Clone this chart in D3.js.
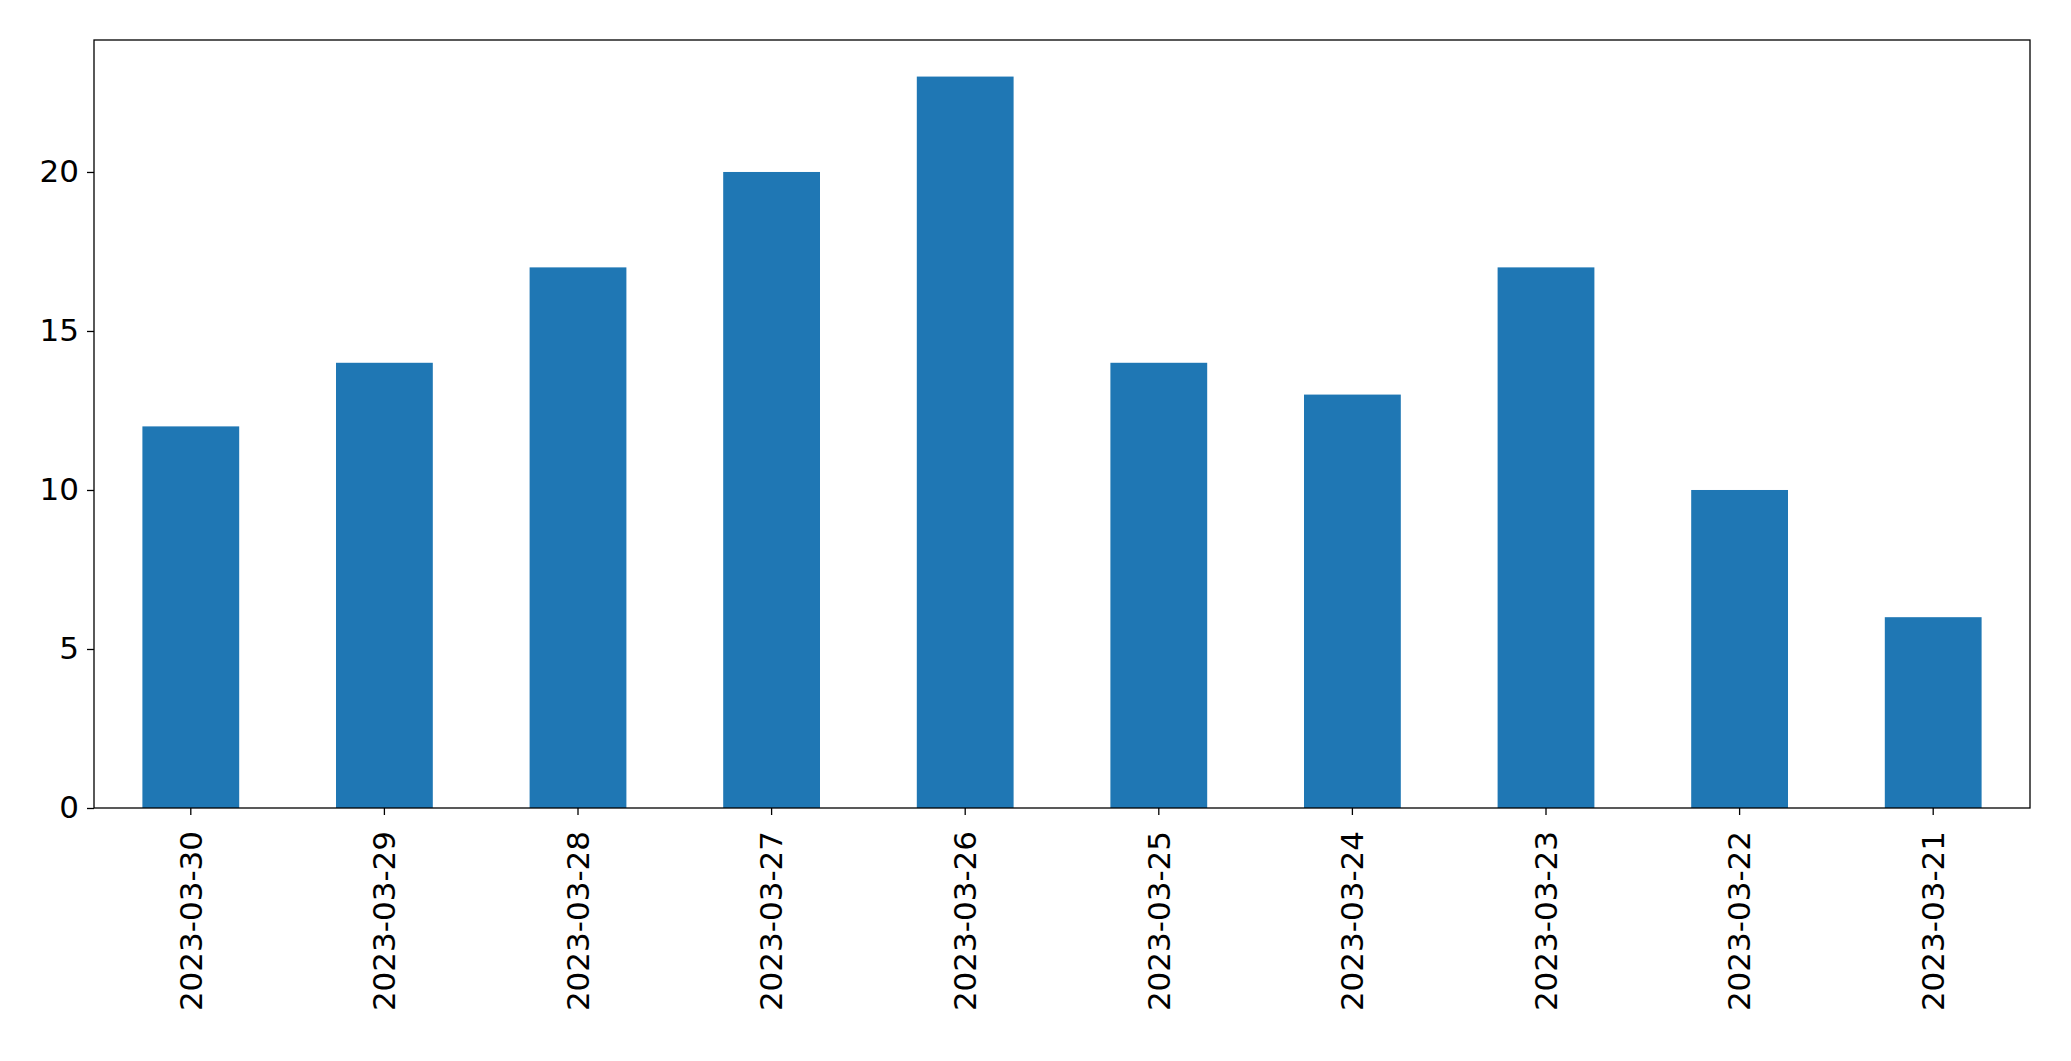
<!DOCTYPE html>
<html><head><meta charset="utf-8">
<script src="https://cdn.jsdelivr.net/npm/d3@7"></script>
<style>body{margin:0;background:#fff}svg{display:block}</style>
</head><body><svg id="c" width="2071" height="1061"></svg>
<script>
const categories = ["2023-03-30","2023-03-29","2023-03-28","2023-03-27","2023-03-26","2023-03-25","2023-03-24","2023-03-23","2023-03-22","2023-03-21"];
const values = [12,14,17,20,23,14,13,17,10,6];
const yTicks = [0,5,10,15,20];

const m = {l:94, r:2071-2030, t:40, b:1061-808};
const W = 2071, H = 1061;
const svg = d3.select("#c");
const x = d3.scaleBand().domain(categories).range([m.l, W-m.r]).paddingInner(0.5).paddingOuter(0.25);
const y = d3.scaleLinear().domain([0, 23*1.05]).range([H-m.b, m.t]);

svg.selectAll("rect.bar").data(values).join("rect").attr("class","bar")
  .attr("x",(d,i)=>x(categories[i])).attr("width",x.bandwidth())
  .attr("y",d=>y(d)).attr("height",d=>y(0)-y(d)).attr("fill","#1f77b4");

const font = "DejaVu Sans";
const ya = svg.append("g").attr("transform",`translate(${m.l},0)`)
  .call(d3.axisLeft(y).tickValues(yTicks).tickSize(7).tickPadding(8));
ya.selectAll("text").style("font-family",font).style("font-size","31px").attr("fill","#000");
const xa = svg.append("g").attr("transform",`translate(0,${H-m.b})`)
  .call(d3.axisBottom(x).tickSize(7).tickPadding(0));
xa.selectAll("text").style("font-family",font).style("font-size","31px").attr("fill","#000")
  .attr("transform","rotate(-90)").attr("text-anchor","end").attr("dx","-0.45em").attr("dy","0.35em").attr("y",0).attr("x",-9);
svg.selectAll(".domain").remove();
svg.selectAll(".tick line").attr("stroke","#000").attr("stroke-width",1.3);
svg.append("rect").attr("x",m.l).attr("y",m.t).attr("width",W-m.r-m.l).attr("height",H-m.b-m.t)
  .attr("fill","none").attr("stroke","#000").attr("stroke-width",1.3);
</script></body></html>
